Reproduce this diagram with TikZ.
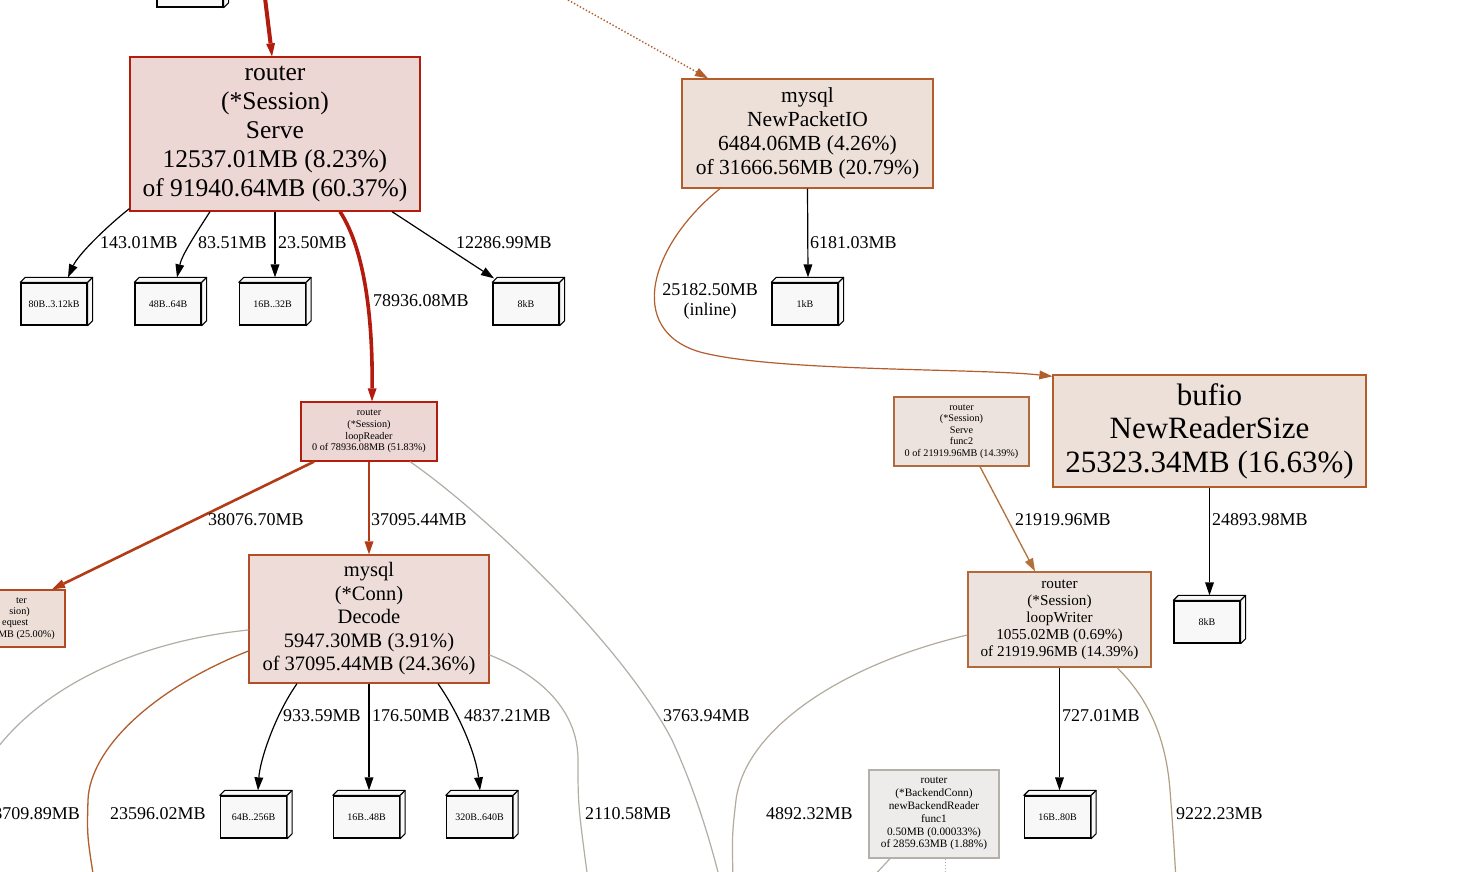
\documentclass[tikz,border=0pt]{standalone}
\usepackage{fontspec}
\setmainfont{Liberation Serif}
\usetikzlibrary{arrows.meta}
\definecolor{boxfill}{HTML}{F8F8F8}
\definecolor{rfill}{HTML}{EDD7D5}
\definecolor{rdraw}{HTML}{B21D0D}
\definecolor{ofill}{HTML}{EDE0D8}
\definecolor{odraw}{HTML}{B25D2A}
\definecolor{dfill}{HTML}{EDDCD7}
\definecolor{ddraw}{HTML}{B24D28}
\definecolor{wfill}{HTML}{EDE3DE}
\definecolor{wdraw}{HTML}{B26A3A}
\definecolor{gfill}{HTML}{EDECEA}
\definecolor{gdraw}{HTML}{B2B0A9}
\definecolor{lfill}{HTML}{EDDED8}
\definecolor{ldraw}{HTML}{B24A22}
\definecolor{ehot}{HTML}{B21B0D}
\definecolor{ered}{HTML}{B23C16}
\definecolor{eorange}{HTML}{B25D2B}
\definecolor{egrey}{HTML}{B2AEA6}
\definecolor{etan}{HTML}{B29E85}
\definecolor{egreyb}{HTML}{B2AB9E}
\definecolor{ewr}{HTML}{B2703A}
\newcommand\threedbox[1]{%
  \filldraw[bxedge] (#1.north west) -- ++(5,-5) -- ([xshift=5pt,yshift=5pt]#1.north east)
     -- ([xshift=5pt,yshift=5pt]#1.south east) -- (#1.south east) -- (#1.north east) -- cycle;
  \draw[bxedge] (#1.north east) -- ++(5,-5);
}
\newcommand\mkbox[4]{%
  \node[bx] (#1) at (#2,#3) {#4};
  \threedbox{#1}%
}
\tikzset{
  bx/.style={draw=black, fill=boxfill, line width=1.3pt, minimum width=66pt, minimum height=42pt,
    inner sep=0pt, font=\fontsize{10}{11}\selectfont},
  bxedge/.style={draw=black, fill=boxfill, line width=1.1pt, line join=round},
  fn/.style={draw, line width=1.3pt, inner sep=0pt, align=center},
  lbl/.style={inner sep=0pt, font=\fontsize{18}{20}\selectfont},
  tip/.style={-{Triangle[length=13pt,width=9pt,line width=0pt]}},
  blk/.style={tip, draw=black, line width=1.2pt},
}
\begin{document}
\begin{tikzpicture}[x=1pt,y=-1pt]
\useasboundingbox (0,0) rectangle (1458,872);
\clip (0,0) rectangle (1458,872);
\fill[white] (0,0) rectangle (1458,872);

% ---------- function nodes ----------
\node[fn, fill=rfill, draw=rdraw, minimum width=290pt, minimum height=154pt,
  font=\fontsize{25.5}{29}\selectfont] (router) at (275,134)
  {router\\(*Session)\\Serve\\12537.01MB (8.23\%)\\of 91940.64MB (60.37\%)};
\node[fn, fill=ofill, draw=odraw, minimum width=251pt, minimum height=109pt,
  font=\fontsize{21.5}{24}\selectfont] (npio) at (807.5,133.5)
  {mysql\\NewPacketIO\\6484.06MB (4.26\%)\\of 31666.56MB (20.79\%)};
\node[fn, fill=rfill, draw=rdraw, minimum width=136pt, minimum height=59pt,
  font=\fontsize{10.2}{11.7}\selectfont] (lread) at (369,431.5)
  {router\\(*Session)\\loopReader\\0 of 78936.08MB (51.83\%)};
\node[fn, fill=wfill, draw=wdraw, minimum width=135pt, minimum height=69pt,
  font=\fontsize{10.2}{11.5}\selectfont] (sfunc) at (961.5,431.5)
  {router\\(*Session)\\Serve\\func2\\0 of 21919.96MB (14.39\%)};
\node[fn, fill=ofill, draw=odraw, minimum width=313pt, minimum height=112pt,
  font=\fontsize{31}{33.5}\selectfont] (bufio) at (1209.5,431)
  {bufio\\NewReaderSize\\25323.34MB (16.63\%)};
\node[fn, fill=lfill, draw=ldraw, minimum width=145pt, minimum height=57pt] (hreq) at (-7.5,618.5) {};
\node[fn, fill=dfill, draw=ddraw, minimum width=240pt, minimum height=128pt,
  font=\fontsize{20.5}{23.5}\selectfont] (decode) at (369,619)
  {mysql\\(*Conn)\\Decode\\5947.30MB (3.91\%)\\of 37095.44MB (24.36\%)};
\node[fn, fill=wfill, draw=wdraw, minimum width=183pt, minimum height=95pt,
  font=\fontsize{15.2}{17}\selectfont] (lwrite) at (1059.5,619.5)
  {router\\(*Session)\\loopWriter\\1055.02MB (0.69\%)\\of 21919.96MB (14.39\%)};
\node[fn, fill=gfill, draw=gdraw, minimum width=130pt, minimum height=88pt,
  font=\fontsize{11.3}{12.8}\selectfont] (bconn) at (934,814)
  {router\\(*BackendConn)\\newBackendReader\\func1\\0.50MB (0.00033\%)\\of 2859.63MB (1.88\%)};

% visible fragments of the clipped node on the left
\begin{scope}[every node/.style={inner sep=0pt, anchor=east, font=\fontsize{10.2}{11.7}\selectfont}]
\node (hq1) at (27,601) {ter};
\node (hq2) at (30,612.5) {sion)};
\node (hq3) at (28.5,624) {equest};
\node (hq4) at (55,635.5) {MB (25.00\%)};
\end{scope}

% ---------- leaf boxes ----------
\mkbox{btop}{190}{-14}{}
\mkbox{b1}{54}{304}{80B..3.12kB}
\mkbox{b2}{168}{304}{48B..64B}
\mkbox{b3}{272.5}{304}{16B..32B}
\mkbox{b4}{526}{304}{8kB}
\mkbox{b5}{805}{304}{1kB}
\mkbox{b6}{1207}{622}{8kB}
\mkbox{b7}{253.5}{817}{64B..256B}
\mkbox{b8}{366.5}{817}{16B..48B}
\mkbox{b9}{479.5}{817}{320B..640B}
\mkbox{b10}{1057.5}{817}{16B..80B}

% ---------- free ends ----------
\coordinate (ctop) at (265,-2);
\coordinate (cdot) at (568,0);
\coordinate (c12) at (720,880);
\coordinate (c16) at (1176,880);
\coordinate (c17) at (733,880);
\coordinate (c18) at (-15,765);
\coordinate (c19) at (94,880);
\coordinate (c20) at (588,880);
\coordinate (c24) at (870,880);
\coordinate (c25) at (945,880);

% ---------- connectors ----------
\draw[tip, draw=ehot, line width=4pt] (ctop) .. controls (268,20) .. ([xshift=-3pt]router.north);
\draw[tip, draw=eorange, line width=1.4pt, dotted] (cdot) -- ([xshift=-99.5pt]npio.north);

\draw[blk] ([yshift=3pt]router.south west) .. controls (105,228) and (78,255) .. ([xshift=14pt,yshift=5pt]b1.north);
\draw[blk] ([xshift=-65pt]router.south) .. controls (195,235) and (182,255) .. ([xshift=9pt,yshift=5pt]b2.north);
\draw[blk] (router.south) -- ([xshift=2.5pt,yshift=5pt]b3.north);
\draw[blk] ([xshift=117pt]router.south) -- ([xshift=-32pt,yshift=4pt]b4.north);
\draw[tip, draw=ehot, line width=3.6pt] ([xshift=65pt]router.south) .. controls (360,242) and (373,300) .. ([xshift=3pt]lread.north);

\draw[blk] (npio.south) -- ([xshift=3pt,yshift=5pt]b5.north);
\draw[tip, draw=eorange, line width=1.2pt] ([xshift=-87.5pt]npio.south)
  .. controls (650,245) and (625,330) .. (700,352)
  .. controls (775,372) and (975,368) .. ([yshift=-2pt]bufio.north west);

\draw[tip, draw=ered, line width=2.6pt] ([xshift=-55pt]lread.south) -- ([xshift=59.5pt]hreq.north);
\draw[tip, draw=ered, line width=2.6pt] (lread.south) -- (decode.north);
\draw[draw=egrey, line width=1.2pt] ([xshift=41pt]lread.south) .. controls (480,510) and (620,640) .. (672,740)
  .. controls (695,790) and (710,840) .. (c12);

\draw[tip, draw=ewr, line width=1.3pt] ([xshift=18.5pt]sfunc.south) -- ([xshift=-24.5pt]lwrite.north);
\draw[blk] (bufio.south) -- ([xshift=2.5pt,yshift=5pt]b6.north);
\draw[blk] (lwrite.south) -- ([xshift=2pt,yshift=5pt]b10.north);
\draw[draw=etan, line width=1.2pt] ([xshift=57.5pt]lwrite.south) .. controls (1150,700) and (1166,740) .. (1170,790)
  .. controls (1173,830) .. (c16);
\draw[draw=egreyb, line width=1.2pt] ([yshift=-15.5pt]lwrite.west) .. controls (840,665) and (745,730) .. (736,800)
  .. controls (732,835) .. (c17);

\draw[draw=egrey, line width=1.2pt] ([yshift=-11pt]decode.west) .. controls (150,640) and (40,680) .. (c18);
\draw[draw=eorange, line width=1.3pt] ([yshift=-32pt]decode.west) .. controls (150,690) and (90,750) .. (88,800)
  .. controls (87,835) .. (c19);
\draw[draw=egrey, line width=1.2pt] ([yshift=-36pt]decode.east) .. controls (540,675) and (578,710) .. (578,760)
  .. controls (578,805) .. (c20);
\draw[blk] ([xshift=-72pt]decode.south) .. controls (275,715) and (260,760) .. ([xshift=4.5pt,yshift=5pt]b7.north);
\draw[blk] (decode.south) -- ([xshift=2.5pt,yshift=5pt]b8.north);
\draw[blk] ([xshift=69pt]decode.south) .. controls (460,715) and (476,755) .. ([xshift=0.5pt,yshift=5pt]b9.north);

\draw[draw=egrey, line width=1.2pt] ([xshift=-44pt]bconn.south) -- (c24);
\draw[draw=egrey, line width=1pt, dotted] ([xshift=11pt]bconn.south) -- (c25);

% ---------- labels ----------
\node[lbl, anchor=west] (l1) at (100,243) {143.01MB};
\node[lbl, anchor=west] (l2) at (198,243) {83.51MB};
\node[lbl, anchor=west] (l3) at (278,243) {23.50MB};
\node[lbl, anchor=west] (l4) at (456,243) {12286.99MB};
\node[lbl, anchor=west] (l5) at (373,301) {78936.08MB};
\node[lbl, anchor=west] (l6) at (810,243) {6181.03MB};
\node[lbl, align=center] (l7) at (710,301) {25182.50MB\\(inline)};
\node[lbl, anchor=west] (l8) at (208,520) {38076.70MB};
\node[lbl, anchor=west] (l9) at (371,520) {37095.44MB};
\node[lbl, anchor=west] (l10) at (1015,520) {21919.96MB};
\node[lbl, anchor=west] (l11) at (1212,520) {24893.98MB};
\node[lbl, anchor=west] (l12) at (283,716) {933.59MB};
\node[lbl, anchor=west] (l13) at (372,716) {176.50MB};
\node[lbl, anchor=west] (l14) at (464,716) {4837.21MB};
\node[lbl, anchor=west] (l15) at (663,716) {3763.94MB};
\node[lbl, anchor=west] (l16) at (1062,716) {727.01MB};
\node[lbl, anchor=east] (l17) at (80,814) {3709.89MB};
\node[lbl, anchor=west] (l18) at (110,814) {23596.02MB};
\node[lbl, anchor=west] (l19) at (585,814) {2110.58MB};
\node[lbl, anchor=west] (l20) at (766,814) {4892.32MB};
\node[lbl, anchor=west] (l21) at (1176,814) {9222.23MB};
\end{tikzpicture}
\end{document}
